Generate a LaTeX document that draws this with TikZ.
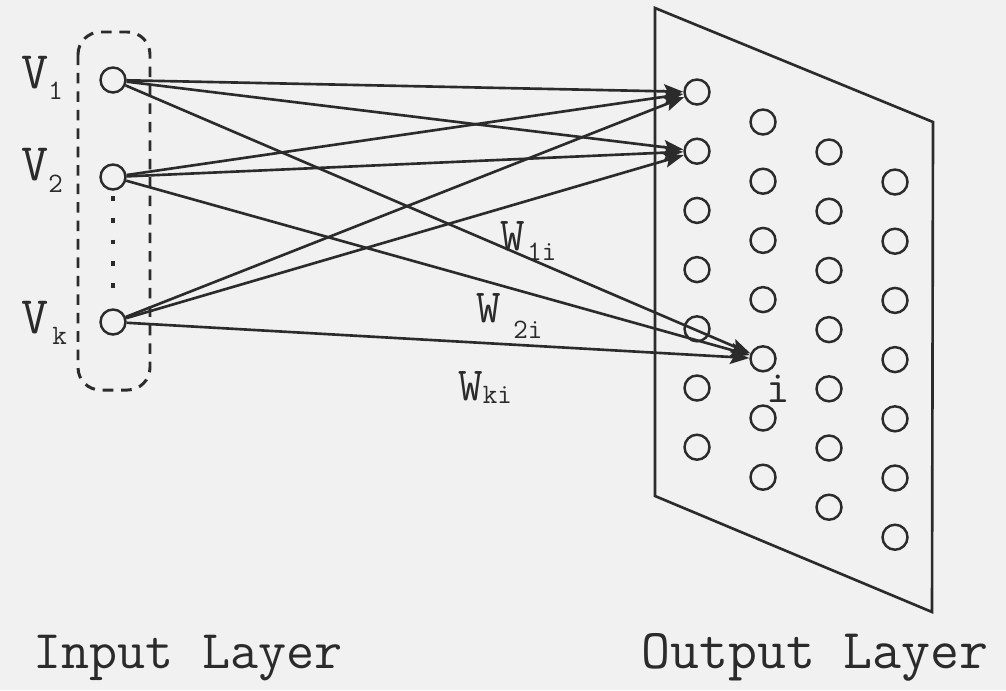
\documentclass[tikz,border=0pt]{standalone}
\usepackage{fontspec}
\usepackage{tikz}
\usetikzlibrary{arrows.meta,positioning,calc}
\definecolor{paper}{HTML}{F1F1F1}
\definecolor{ink}{HTML}{2B2B2B}
\newcommand{\subfont}{\fontsize{16}{16}\selectfont}

\begin{document}
\begin{tikzpicture}[x=0.02cm,y=-0.02cm,font=\ttfamily\fontsize{27}{30}\selectfont,color=ink]
  \tikzset{neuron/.style={draw=ink,circle,line width=1.4pt,minimum size=0.5cm,inner sep=0pt},
    link/.style={line width=1.5pt,-{Stealth[length=11pt,width=8pt,inset=2pt]}},
    lbl/.style={inner sep=0pt,anchor=base west}}
  \fill[paper] (0,0) rectangle (1006,690);
  \useasboundingbox (0,0) rectangle (1006,690);
  % output plane
  \draw[line width=1.5pt,line join=miter] (655,8) -- (933,122) -- (932,612) -- (655,496) -- cycle;
  \foreach \c in {1,...,4}
    \foreach \r in {1,...,7}
      \node[neuron] (o\c\r) at ({697+66*(\c-1)},{92+30*(\c-1)+59.2*(\r-1)}) {};
  % input layer
  \node[neuron] (v1) at (113,80) {};
  \node[neuron] (v2) at (113,177) {};
  \node[neuron] (vk) at (113,322) {};
  \draw[line width=1.7pt,dash pattern=on 6pt off 4.5pt,rounded corners=0.45cm] (78,32) rectangle (150,390);
  \draw[line width=1.8pt,dash pattern=on 2.8pt off 9.6pt,shorten <=3pt,shorten >=4pt] (v2.south) -- (vk.north);
  \node[lbl,font=\ttfamily\fontsize{30}{32}\selectfont] (lv1) at (21,88) {V\raisebox{-0.22cm}{\subfont 1}};
  \node[lbl,font=\ttfamily\fontsize{30}{32}\selectfont] (lv2) at (21,180) {V\raisebox{-0.24cm}{\subfont 2}};
  \node[lbl,font=\ttfamily\fontsize{30}{32}\selectfont] (lvk) at (21,333) {V\hspace{0.08cm}\raisebox{-0.22cm}{\subfont k}};
  % weights
  \foreach \s in {v1,v2,vk}
    \foreach \t in {o11,o12,o25}
      \draw[link] (\s) -- (\t);
  \node[lbl] (lw1) at (500,250) {W\hspace{0.05cm}\raisebox{-0.2cm}{\subfont 1i}};
  \node[lbl] (lw2) at (476,322) {W\hspace{0.25cm}\raisebox{-0.32cm}{\subfont 2i}};
  \node[lbl] (lwk) at (458,400) {W\raisebox{-0.06cm}{\subfont ki}};
  \node[lbl,font=\ttfamily\fontsize{26}{28}\selectfont] (li) at (766,402) {i};
  % captions
  \node[anchor=base,font=\ttfamily\fontsize{31}{36}\selectfont] (inlayer) at (188,668) {Input Layer};
  \node[anchor=base,font=\ttfamily\fontsize{32}{36}\selectfont] (outlayer) at (815,668) {Output Layer};
\end{tikzpicture}
\end{document}
